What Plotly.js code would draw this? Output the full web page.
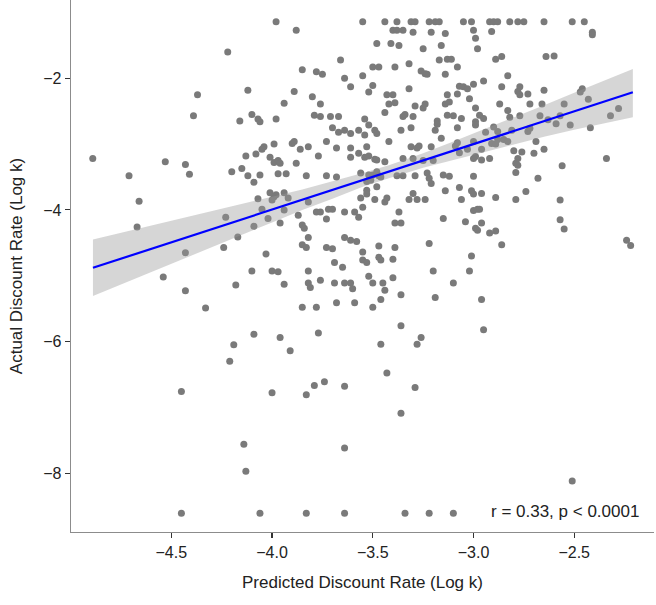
<!DOCTYPE html>
<html><head><meta charset="utf-8">
<script src="https://cdn.plot.ly/plotly-3.0.1.min.js"></script>
<style>html,body{margin:0;padding:0;background:#fff}#chart{width:656px;height:605px}</style>
</head><body><div id="chart"></div>
<script>
const predictedRate = [
 -4.22,-4.37,-4.12,-4.39,-4.16,-4.10,
 -3.98,-3.55,-3.44,-3.38,-3.31,-3.29,-3.22,-3.19,-3.17,-3.88,-3.40,-3.38,-3.35,-3.30,-3.21,-3.48,-3.41,-3.37,-3.25,-3.16,-3.66,-3.17,
 -3.85,-3.78,-3.75,-3.50,-3.47,-3.39,-3.32,-3.26,-3.24,-3.23,
 -3.64,-3.55,-3.61,-3.50,-3.52,-3.32,-3.89,-3.80,-3.43,-3.40,
 -3.94,-3.76,-3.42,-3.39,-3.29,-3.25,-3.24,
 -4.07,-4.06,-3.98,-3.79,-3.76,-3.71,-3.67,-3.54,-3.44,-3.35,-3.34,-3.30,-3.18,-3.18,
 -3.70,-3.52,-3.67,-3.64,-3.61,-3.57,-3.49,-3.48,-3.36,-3.31,-3.19,
 -3.05,-3.01,-2.92,-2.90,-2.88,-2.82,-2.78,-2.75,-2.65,-2.51,-2.45,
 -3.14,-3.00,-2.91,-2.99,-2.41,-2.41,-2.98,-3.13,-3.11,-2.89,-2.86,-2.64,-2.60,
 -3.08,-3.14,-2.83,-2.95,-3.00,-3.07,-3.05,-3.03,-2.86,-2.77,-2.78,-2.65,-2.46,-2.47,
 -3.13,-3.08,-2.77,-2.73,-3.14,-3.12,-3.02,-2.99,-2.87,-2.72,-2.66,-2.55,-2.43,
 -3.13,-3.10,-3.06,-2.97,-2.95,-2.99,-2.83,-2.82,-2.77,-2.67,-2.57,-2.63,-2.28,-2.32,
 -3.08,-2.99,-2.94,-2.90,-2.88,-2.81,-2.73,-2.72,-2.59,-2.52,-2.42,
 -4.89,-4.71,-4.53,-4.43,-4.41,-4.13,-4.20,-4.15,-4.12,-4.09,-4.66,-4.23,-4.67,-4.09,-4.17,-4.24,-4.43,
 -3.54,-3.16,-4.04,-4.05,-4.08,-3.99,-3.90,-3.89,-3.86,-3.82,-3.73,-3.68,-3.61,-3.53,-3.42,-3.31,-3.28,-3.27,-3.21,
 -4.01,-3.99,-3.97,-3.96,-3.88,-3.77,-3.61,-3.57,-3.54,-3.52,-3.49,-3.48,-3.44,-3.35,-3.30,-3.25,-3.20,
 -4.06,-3.97,-3.93,-3.83,-3.73,-3.68,-3.56,-3.52,-3.50,-3.48,-3.47,-3.46,-3.38,-3.35,-3.29,-3.23,-3.22,-3.21,-3.53,-3.51,-3.15,
 -3.48,-3.53,-3.53,-3.56,-3.49,-3.44,-3.43,-3.32,-3.28,-3.24,-3.30,-4.01,-3.99,-4.00,-3.98,-3.94,-3.92,-4.07,-3.82,
 -4.05,-4.02,-3.96,-3.94,-3.87,-3.78,-3.76,-3.72,-3.70,-3.73,-3.64,-3.59,-3.57,-3.55,-3.37,-3.39,-3.36,-3.15,-3.85,-3.84,
 -3.82,-3.64,-3.61,-3.58,-3.85,-3.83,-3.73,-3.70,-3.55,-3.47,-3.39,-3.22,-4.03,-3.55,-3.53,-3.47,-3.46,-3.40,
 -3.09,-3.08,-3.07,-3.03,-3.00,-3.00,-2.99,-2.96,-2.96,-2.92,-2.91,-2.89,-2.88,-2.85,-2.83,-2.80,-2.76,-2.78,-2.79,-2.78,-2.79,-2.69,-2.70,-2.65,-2.68,-2.56,-2.34,
 -3.12,-3.00,-3.14,-3.07,-3.01,-3.00,-2.96,-3.06,-2.89,-2.79,-2.74,-2.57,
 -3.00,-2.98,-2.97,-3.04,-2.99,-2.98,-2.96,-2.92,-2.89,-2.57,-2.55,-2.86,-3.01,-2.24,-2.22,
 -4.54,-4.43,-4.33,-4.18,-4.10,-4.09,-4.19,-4.21,-4.45,
 -4.00,-3.97,-3.82,-3.94,-3.82,-3.81,-3.76,-3.65,-3.69,-3.64,-3.61,-3.60,-3.52,-3.50,-3.45,-3.44,-3.40,-3.36,-3.46,-3.20,-3.19,
 -3.85,-3.78,-3.68,-3.59,-3.50,-3.96,-3.77,-3.91,-3.36,-3.26,-3.28,-3.46,-3.43,-3.74,-3.79,-3.64,-3.29,-4.00,-3.83,-3.69,
 -3.02,-3.10,-2.96,-2.95,-4.14,-4.13,-4.45,-3.36,-3.64,-4.06,-3.83,-3.64,-3.34,-3.22,-2.51,-3.10
];
const actualRate = [
 -1.60,-2.25,-2.18,-2.57,-2.65,-2.55,
 -1.14,-1.14,-1.14,-1.14,-1.14,-1.14,-1.14,-1.14,-1.14,-1.27,-1.27,-1.27,-1.27,-1.30,-1.30,-1.47,-1.47,-1.50,-1.55,-1.50,-1.72,-1.72,
 -1.87,-1.90,-1.94,-1.83,-1.83,-1.83,-1.78,-1.89,-1.93,-1.94,
 -2.00,-1.96,-2.13,-2.11,-2.21,-2.16,-2.20,-2.28,-2.25,-2.25,
 -2.38,-2.39,-2.39,-2.37,-2.42,-2.45,-2.39,
 -2.62,-2.66,-2.62,-2.56,-2.58,-2.58,-2.58,-2.62,-2.52,-2.58,-2.55,-2.58,-2.65,-2.70,
 -2.75,-2.71,-2.82,-2.79,-2.84,-2.79,-2.79,-2.84,-2.79,-2.75,-2.79,
 -1.14,-1.14,-1.14,-1.14,-1.14,-1.14,-1.14,-1.14,-1.14,-1.14,-1.14,
 -1.32,-1.27,-1.29,-1.39,-1.30,-1.34,-1.55,-1.71,-1.71,-1.71,-1.67,-1.67,-1.66,
 -1.83,-1.94,-1.96,-2.04,-2.09,-2.12,-2.13,-2.16,-2.13,-2.13,-2.20,-2.18,-2.16,-2.21,
 -2.25,-2.24,-2.25,-2.24,-2.39,-2.36,-2.31,-2.45,-2.39,-2.39,-2.39,-2.39,-2.32,
 -2.56,-2.57,-2.61,-2.56,-2.61,-2.66,-2.49,-2.59,-2.57,-2.57,-2.57,-2.63,-2.46,-2.57,
 -2.75,-2.71,-2.82,-2.74,-2.81,-2.79,-2.81,-2.76,-2.69,-2.71,-2.75,
 -3.22,-3.48,-3.27,-3.31,-3.46,-3.18,-3.42,-3.37,-3.48,-3.58,-3.87,-4.11,-4.26,-4.25,-4.41,-4.57,-4.65,
 -2.86,-2.91,-3.04,-3.08,-3.15,-3.00,-2.99,-2.96,-3.08,-3.04,-2.96,-3.06,-3.06,-3.04,-2.96,-3.04,-3.06,-3.03,-3.04,
 -3.20,-3.28,-3.25,-3.29,-3.29,-3.18,-3.20,-3.14,-3.20,-3.18,-3.23,-3.24,-3.27,-3.22,-3.22,-3.25,-3.25,
 -3.47,-3.45,-3.45,-3.48,-3.48,-3.50,-3.44,-3.47,-3.47,-3.42,-3.48,-3.50,-3.48,-3.48,-3.48,-3.44,-3.52,-3.60,-3.57,-3.55,-3.47,
 -3.65,-3.70,-3.76,-3.82,-3.84,-3.88,-3.82,-3.84,-3.84,-3.84,-3.75,-3.74,-3.80,-3.85,-3.77,-3.74,-3.82,-3.83,-3.88,
 -3.99,-4.13,-4.20,-4.00,-4.08,-4.03,-4.03,-3.99,-3.99,-4.14,-4.03,-4.03,-4.11,-3.96,-4.03,-4.20,-4.20,-4.13,-4.23,-4.28,
 -4.42,-4.42,-4.46,-4.48,-4.53,-4.57,-4.57,-4.59,-4.64,-4.55,-4.57,-4.51,-4.67,-4.76,-4.80,-4.72,-4.76,-4.75,
 -3.03,-2.98,-3.13,-3.08,-2.96,-3.22,-3.19,-3.08,-3.24,-3.22,-2.99,-3.00,-2.93,-2.93,-2.96,-3.10,-3.12,-3.22,-3.29,-3.32,-3.43,-2.96,-3.14,-3.08,-3.52,-3.33,-3.22,
 -3.49,-3.49,-3.71,-3.66,-3.71,-3.76,-3.75,-3.84,-3.81,-3.84,-3.72,-3.85,
 -4.01,-3.99,-3.99,-4.18,-4.28,-4.31,-4.20,-4.35,-4.32,-4.15,-4.29,-4.53,-4.70,-4.46,-4.54,
 -5.02,-5.23,-5.49,-5.14,-4.93,-5.89,-6.05,-6.30,-6.76,
 -4.93,-4.94,-4.93,-5.13,-5.11,-5.18,-5.07,-4.87,-5.11,-5.11,-5.11,-5.20,-5.01,-5.11,-5.11,-5.22,-5.03,-5.29,-5.36,-4.93,-5.33,
 -5.48,-5.48,-5.41,-5.41,-5.48,-5.94,-5.87,-6.14,-5.76,-5.94,-6.04,-6.04,-6.48,-6.61,-6.67,-6.68,-6.70,-6.78,-6.81,-4.80,
 -4.93,-5.11,-5.36,-5.82,-7.56,-7.97,-8.61,-7.09,-7.62,-8.61,-8.61,-8.61,-8.61,-8.61,-8.12,-8.61
];
// fitted regression line and its confidence band
const fitX = [-4.889, -2.209];
const fitY = [-4.88, -2.213];
const bandX = [-4.889,-4.75,-4.6,-4.45,-4.3,-4.15,-4.0,-3.85,-3.7,-3.55,-3.42,-3.25,-3.1,-2.95,-2.8,-2.65,-2.5,-2.35,-2.209];
const bandUpper = [-4.45,-4.35,-4.24,-4.13,-4.02,-3.91,-3.80,-3.69,-3.57,-3.44,-3.32,-3.14,-2.96,-2.78,-2.60,-2.41,-2.22,-2.03,-1.86];
const bandLower = [-5.31,-5.13,-4.94,-4.75,-4.57,-4.38,-4.19,-4.00,-3.83,-3.65,-3.52,-3.36,-3.24,-3.12,-3.01,-2.89,-2.78,-2.68,-2.59];
const xTickVals = [-4.5,-4.0,-3.5,-3.0,-2.5];
const xTickText = ['\u22124.5','\u22124.0','\u22123.5','\u22123.0','\u22122.5'];
const yTickVals = [-8,-6,-4,-2];
const yTickText = ['\u22128','\u22126','\u22124','\u22122'];
const statText = 'r = 0.33, p < 0.0001';

const n = Math.min(predictedRate.length, actualRate.length);
const traces = [
  {type:'scatter', mode:'markers', x:predictedRate.slice(0,n), y:actualRate.slice(0,n),
   marker:{color:'#7a7a7a', size:7, line:{width:0}}, hoverinfo:'skip'},
  {type:'scatter', mode:'lines', x:bandX.concat(bandX.slice().reverse()),
   y:bandUpper.concat(bandLower.slice().reverse()), fill:'toself',
   fillcolor:'rgba(153,153,153,0.4)', line:{width:0}, hoverinfo:'skip'},
  {type:'scatter', mode:'lines', x:fitX, y:fitY, line:{color:'#0000ff', width:2.2}, hoverinfo:'skip'}
];
const axisCommon = {ticks:'outside', ticklen:5, tickwidth:1.1, tickcolor:'#333', showline:true,
  linecolor:'#8c8c8c', linewidth:1.3, showgrid:false, zeroline:false,
  tickfont:{size:16, color:'#222'}};
const layout = {
  width:656, height:605, margin:{l:71, r:2, t:0, b:73}, showlegend:false,
  paper_bgcolor:'#ffffff', plot_bgcolor:'#ffffff',
  font:{family:'"Liberation Sans", Arial, Helvetica, sans-serif', color:'#222'},
  xaxis:Object.assign({}, axisCommon, {range:[-4.998,-2.104], tickmode:'array', tickvals:xTickVals, ticktext:xTickText,
    title:{text:'Predicted Discount Rate (Log k)', font:{size:17, color:'#222'}, standoff:16}}),
  yaxis:Object.assign({}, axisCommon, {range:[-8.895,-0.81], tickmode:'array', tickvals:yTickVals, ticktext:yTickText,
    title:{text:'Actual Discount Rate (Log k)', font:{size:17, color:'#222'}, standoff:16}}),
  annotations:[{x:-2.923, y:-8.59, xref:'x', yref:'y', text:statText, showarrow:false,
    xanchor:'left', yanchor:'middle', font:{size:17, color:'#222'}}]
};
Plotly.newPlot('chart', traces, layout, {staticPlot:true, displayModeBar:false});
</script></body></html>
